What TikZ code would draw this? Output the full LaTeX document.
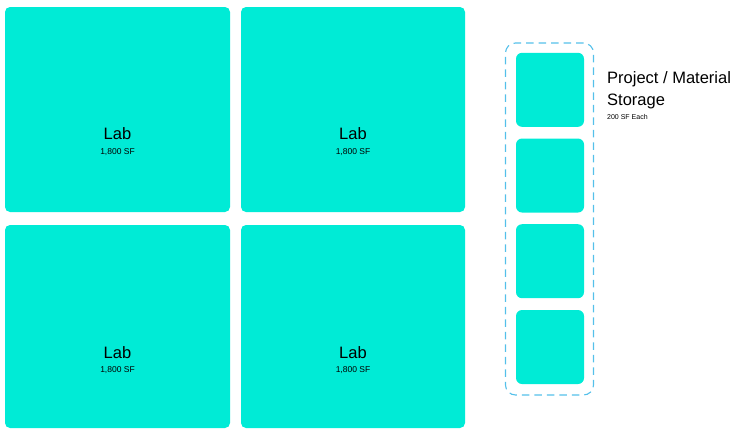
\documentclass[tikz,border=0pt]{standalone}
\usepackage{fontspec}
\setmainfont{Liberation Sans}
\definecolor{teal}{RGB}{0,235,214}
\definecolor{dashblue}{RGB}{84,192,234}
\tikzset{
  lab/.style={fill=teal, rounded corners=5pt, inner sep=0pt, minimum width=225pt},
  store/.style={fill=teal, rounded corners=6pt, inner sep=0pt, minimum width=68pt, minimum height=74pt},
  big/.style={font=\fontsize{16.5}{18}\selectfont, anchor=base, inner sep=0pt},
  small/.style={font=\fontsize{8.5}{10}\selectfont, anchor=base, inner sep=0pt},
  frame/.style={draw=dashblue, line width=1.1pt, dash pattern=on 7.5pt off 5pt, rounded corners=10pt, inner sep=0pt, minimum width=88pt, minimum height=352pt},
}
\begin{document}
\begin{tikzpicture}[x=1pt,y=-1pt]
\useasboundingbox (0,0) rectangle (734,429);
\node[lab, minimum height=205pt] (l1) at (117.5,109.5) {};
\node[lab, minimum height=205pt, minimum width=224pt] (l2) at (353,109.5) {};
\node[lab, minimum height=203pt] (l3) at (117.5,326.5) {};
\node[lab, minimum height=203pt, minimum width=224pt] (l4) at (353,326.5) {};
\foreach \n/\x/\y in {t1/117.5/139.8, t2/353/139.8, t3/117.5/358, t4/353/358}{
  \node[big] (\n a) at (\x,\y) {Lab};
  \node[small] (\n b) at (\x,\y+14.2) {1,800 SF};
}
\node[frame] (fr) at (549.5,219) {};
\node[store] (s1) at (550,89.8) {};
\node[store] (s2) at (550,175.5) {};
\node[store] (s3) at (550,261.2) {};
\node[store] (s4) at (550,347) {};
\node[big, anchor=base west] (p1) at (607,83.5) {Project / Material};
\node[big, anchor=base west] (p2) at (607,105.2) {Storage};
\node[font=\fontsize{7}{8}\selectfont, anchor=base west, inner sep=0pt] (p3) at (607,119.3) {200 SF Each};
\end{tikzpicture}
\end{document}
